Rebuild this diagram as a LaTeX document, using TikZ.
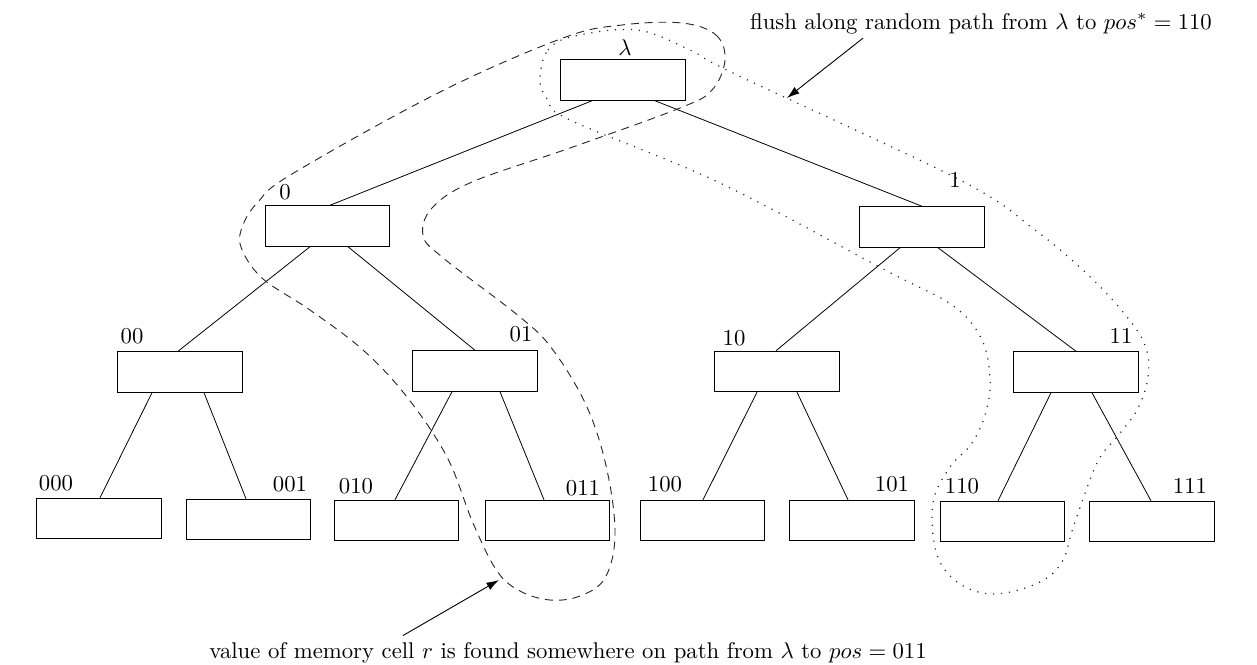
\documentclass[tikz,border=0pt]{standalone}
\usetikzlibrary{calc,arrows.meta}
\begin{document}
\begin{tikzpicture}[x=0.44pt,y=-0.44pt,
 cell/.style={draw,line width=0.45pt,minimum width=54.8pt,minimum height=17.8pt,inner sep=0pt},
 lbl/.style={inner sep=0pt},
 edge/.style={line width=0.35pt},
 pathA/.style={dash pattern=on 3.5pt off 2.6pt, line width=0.4pt, black!85},
 pathB/.style={dash pattern=on 0.5pt off 3pt, line width=0.55pt, black!85},
 note/.style={-{Latex[length=5.5pt,width=3.6pt]}, line width=0.4pt}]
\useasboundingbox (0,0) rectangle (1257,665);

% cells
\node[cell] (lam)  at (623,80) {};
\node[cell] (n0)   at (327.5,226) {};
\node[cell] (n1)   at (922,227) {};
\node[cell] (n00)  at (180,372) {};
\node[cell] (n01)  at (475,371) {};
\node[cell] (n10)  at (777,371.5) {};
\node[cell] (n11)  at (1076,372) {};
\node[cell] (n000) at (99,518.5) {};
\node[cell] (n001) at (248.5,519.5) {};
\node[cell] (n010) at (396.5,520.5) {};
\node[cell] (n011) at (547.5,520.5) {};
\node[cell] (n100) at (702.5,520.5) {};
\node[cell] (n101) at (852,520.5) {};
\node[cell] (n110) at (1002.5,521.5) {};
\node[cell] (n111) at (1152,521.5) {};

% labels
\node[lbl] (llam)  at (625,48) {$\lambda$};
\node[lbl] (l0)    at (285,192) {0};
\node[lbl] (l1)    at (955,180) {1};
\node[lbl] (l00)   at (132,336) {00};
\node[lbl] (l01)   at (521,334) {01};
\node[lbl] (l10)   at (734,338) {10};
\node[lbl] (l11)   at (1121,336) {11};
\node[lbl] (l000)  at (56,483) {000};
\node[lbl] (l001)  at (290,484) {001};
\node[lbl] (l010)  at (356,486) {010};
\node[lbl] (l011)  at (583,488) {011};
\node[lbl] (l100)  at (665,484) {100};
\node[lbl] (l101)  at (892,484) {101};
\node[lbl] (l110)  at (962,486) {110};
\node[lbl] (l111)  at (1190,486) {111};

% tree edges
\draw[edge] ($(lam.south)+(-31,0)$) -- ($(n0.north)+(2.5,0)$);
\draw[edge] ($(lam.south)+(32,0)$) -- (n1.north);
\draw[edge] ($(n0.south)+(-17.5,0)$) -- ($(n00.north)+(-2,0)$);
\draw[edge] ($(n0.south)+(20.5,0)$) -- (n01.north);
\draw[edge] ($(n1.south)+(-22,0)$) -- ($(n10.north)+(-1,0)$);
\draw[edge] ($(n1.south)+(16,0)$) -- (n11.north);
\draw[edge] ($(n00.south)+(-28,0)$) -- ($(n000.north)+(1,0)$);
\draw[edge] ($(n00.south)+(24,0)$) -- ($(n001.north)+(-2.5,0)$);
\draw[edge] ($(n01.south)+(-23,0)$) -- ($(n010.north)+(-1.5,0)$);
\draw[edge] ($(n01.south)+(25,0)$) -- ($(n011.north)+(-3.5,0)$);
\draw[edge] ($(n10.south)+(-20,0)$) -- ($(n100.north)+(0.5,0)$);
\draw[edge] ($(n10.south)+(20,0)$) -- ($(n101.north)+(-4,0)$);
\draw[edge] ($(n11.south)+(-25,0)$) -- ($(n110.north)+(-4.5,0)$);
\draw[edge] ($(n11.south)+(16,0)$) -- ($(n111.north)+(-1,0)$);

% dashed path to 011
\draw[pathA] plot[smooth cycle, tension=0.6] coordinates {
 (682,23) (716,35) (725,60) (712,90) (680,108) (570,148) (472,182)
 (432,208) (423,235) (442,257) (520,317) (553,350) (587,407)
 (607,470) (615,535) (605,578) (580,596) (550,600) (520,591) (497,571) (473,523)
 (447,457) (407,397) (363,350) (310,310) (262,278) (241,247) (243,225)
 (258,202) (292,174) (440,92) (563,38) (622,25)};

% dotted path to 110
\draw[pathB] plot[smooth cycle, tension=0.6] coordinates {
 (540,80) (548,50) (575,36) (637,30) (690,50) (735,74) (960,180)
 (1035,230) (1085,272) (1123,312) (1145,345) (1148,377) (1137,410) (1117,437)
 (1097,463) (1074,525) (1062,562) (1038,583) (995,594) (960,584) (937,555)
 (933,503) (950,467) (972,443) (986,412) (990,377) (981,338) (952,305)
 (885,270) (720,183) (570,120) (548,100)};

% annotations
\node[lbl,anchor=base] (flush) at (981,29) {flush along random path from $\lambda$ to $pos^* = 110$};
\coordinate (flushtip) at (787,98);
\draw[note] ($(flush.south)+(-118,4)$) -- (flushtip);

\node[lbl,anchor=base] (val) at (568,658) {value of memory cell $r$ is found somewhere on path from $\lambda$ to $pos = 011$};
\coordinate (valtip) at (499,580);
\draw[note] ($(val.north)+(-165,-6)$) -- (valtip);
\end{tikzpicture}
\end{document}
